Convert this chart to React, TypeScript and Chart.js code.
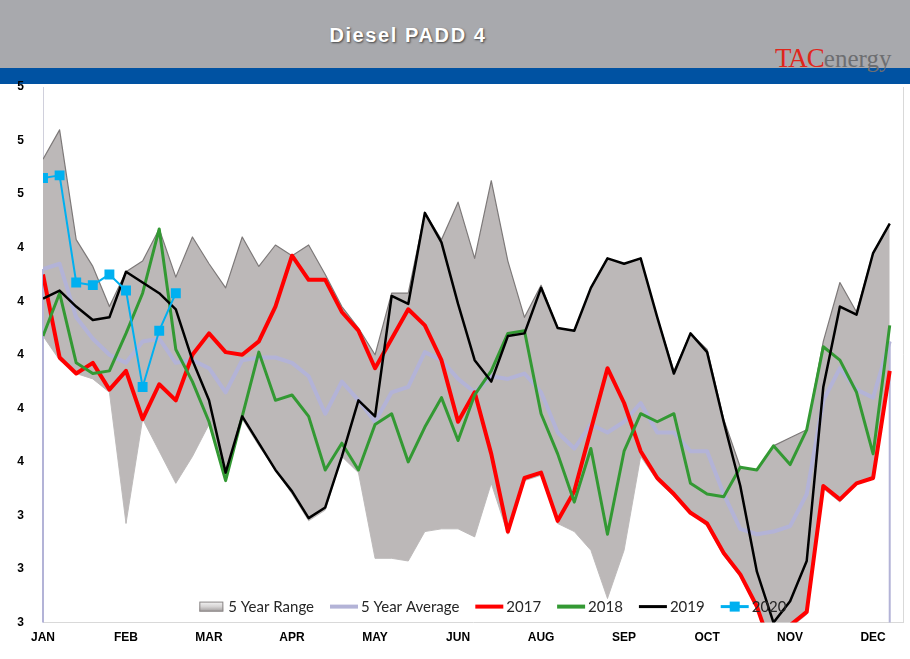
import React, { useEffect, useRef } from 'react';
import { Chart, registerables } from 'chart.js';

Chart.register(...registerables);

// ---- data ----
const monthLabels = ['JAN', 'FEB', 'MAR', 'APR', 'MAY', 'JUN', 'AUG', 'SEP', 'OCT', 'NOV', 'DEC'];
const yTickLabels = ['3', '3', '3', '4', '4', '4', '4', '4', '5', '5', '5'];

const rangeHigh = [
  4.73, 4.84, 4.43, 4.33, 4.18, 4.31, 4.35, 4.47, 4.29, 4.44,
  4.34, 4.25, 4.44, 4.33, 4.41, 4.37, 4.41, 4.30, 4.18, 4.10,
  4.00, 4.23, 4.23, 4.53, 4.43, 4.57, 4.36, 4.65, 4.35, 4.14,
  4.26, 4.10, 4.09, 4.25, 4.36, 4.34, 4.36, 4.14, 3.94, 4.08,
  4.02, 3.76, 3.58, 3.57, 3.66, 3.69, 3.72, 4.05, 4.27, 4.16,
  4.38, 4.49,
];
const rangeLow = [
  4.07, 3.98, 3.93, 3.91, 3.86, 3.37, 3.76, 3.64, 3.52, 3.62,
  3.74, 3.53, 3.76, 3.66, 3.57, 3.48, 3.38, 3.42, 3.62, 3.56,
  3.24, 3.24, 3.23, 3.34, 3.35, 3.35, 3.32, 3.52, 3.33, 3.53,
  3.55, 3.37, 3.34, 3.27, 3.09, 3.27, 3.62, 3.53, 3.47, 3.41,
  3.36, 3.25, 3.17, 3.05, 2.87, 2.98, 3.03, 3.50, 3.45, 3.52,
  3.54, 3.93,
];
const avg5 = [
  4.32, 4.34, 4.14, 4.06, 4.00, 3.97, 4.05, 4.06, 3.97, 3.98,
  3.95, 3.86, 3.98, 3.99, 3.99, 3.97, 3.92, 3.78, 3.90, 3.83,
  3.75, 3.86, 3.88, 4.01, 3.98, 3.91, 3.86, 3.92, 3.91, 3.93,
  3.86, 3.71, 3.65, 3.74, 3.71, 3.75, 3.82, 3.71, 3.71, 3.64,
  3.64, 3.48, 3.35, 3.33, 3.34, 3.36, 3.48, 3.83, 3.95, 3.87,
  3.84, 4.05,
];
const y2017 = [
  4.30, 3.99, 3.93, 3.97, 3.87, 3.94, 3.76, 3.89, 3.83, 4.00,
  4.08, 4.01, 4.00, 4.05, 4.18, 4.37, 4.28, 4.28, 4.16, 4.09,
  3.95, 4.06, 4.17, 4.11, 3.98, 3.75, 3.86, 3.63, 3.34, 3.54,
  3.56, 3.38, 3.49, 3.72, 3.95, 3.82, 3.64, 3.54, 3.48, 3.41,
  3.37, 3.26, 3.18, 3.06, 2.88, 2.99, 3.04, 3.51, 3.46, 3.52,
  3.54, 3.94,
];
const y2018 = [
  4.07, 4.23, 3.97, 3.93, 3.94, 4.08, 4.23, 4.47, 4.02, 3.90,
  3.75, 3.53, 3.77, 4.01, 3.83, 3.85, 3.77, 3.57, 3.67, 3.57,
  3.74, 3.78, 3.60, 3.73, 3.84, 3.68, 3.85, 3.94, 4.08, 4.09,
  3.78, 3.63, 3.45, 3.65, 3.33, 3.64, 3.78, 3.75, 3.78, 3.52,
  3.48, 3.47, 3.58, 3.57, 3.66, 3.59, 3.72, 4.03, 3.98, 3.86,
  3.63, 4.11,
];
const y2019 = [
  4.21, 4.24, 4.18, 4.13, 4.14, 4.31, 4.27, 4.23, 4.17, 3.98,
  3.83, 3.56, 3.77, 3.67, 3.57, 3.49, 3.39, 3.43, 3.62, 3.83,
  3.77, 4.22, 4.19, 4.53, 4.42, 4.19, 3.98, 3.90, 4.07, 4.08,
  4.25, 4.10, 4.09, 4.25, 4.36, 4.34, 4.36, 4.14, 3.93, 4.08,
  4.01, 3.75, 3.51, 3.19, 3.00, 3.08, 3.23, 3.88, 4.18, 4.15,
  4.38, 4.49,
];
const y2020 = [4.66, 4.67, 4.27, 4.26, 4.30, 4.24, 3.88, 4.09, 4.23];

const toXY = (arr: number[]) => arr.map((v, i) => ({ x: i, y: v }));

// ---- plugins ----
const framePlugin = {
  id: 'frame',
  beforeDatasetsDraw(chart: any) {
    const { ctx, chartArea } = chart;
    ctx.save();
    ctx.strokeStyle = '#d9d9d9';
    ctx.lineWidth = 1;
    ctx.beginPath();
    ctx.moveTo(chartArea.right + 0.5, chartArea.top);
    ctx.lineTo(chartArea.right + 0.5, chartArea.bottom);
    ctx.stroke();
    ctx.restore();
  },
};

const edgePlugin = {
  id: 'edgeDrops',
  afterDatasetDraw(chart: any, args: any) {
    const ds = chart.data.datasets[args.index];
    if (!ds.dropEdges) return;
    const pts = args.meta.data;
    if (!pts.length) return;
    const { ctx, chartArea } = chart;
    ctx.save();
    ctx.strokeStyle = ds.borderColor;
    ctx.lineWidth = 2;
    [pts[0], pts[pts.length - 1]].forEach((p: any) => {
      ctx.beginPath();
      ctx.moveTo(p.x, p.y);
      ctx.lineTo(p.x, chartArea.bottom);
      ctx.stroke();
    });
    ctx.restore();
  },
};

const insideLegend = {
  id: 'insideLegend',
  afterDraw(chart: any) {
    const { ctx, chartArea } = chart;
    const items = chart.data.datasets.filter((d: any) => d.legendKind);
    ctx.save();
    ctx.font = '15px Lato';
    ctx.textBaseline = 'middle';
    const symW = 28;
    const gap = 3;
    const spacing = 16;
    const widths = items.map((d: any) => symW + gap + ctx.measureText(d.label).width);
    const total = widths.reduce((a: number, b: number) => a + b, 0) + spacing * (items.length - 1);
    const center = chartArea.left + (chartArea.right - chartArea.left) * 0.522;
    let x = center - total / 2;
    const y = chartArea.bottom - 16;
    items.forEach((d: any, k: number) => {
      if (d.legendKind === 'range') {
        const g = ctx.createLinearGradient(0, y - 5, 0, y + 5);
        g.addColorStop(0, '#f4f4f4');
        g.addColorStop(0.5, '#d6d4d4');
        g.addColorStop(1, '#9e9a9a');
        ctx.fillStyle = g;
        ctx.fillRect(x + 2, y - 5, symW - 4, 10);
        ctx.strokeStyle = '#8c8888';
        ctx.lineWidth = 1;
        ctx.strokeRect(x + 2.5, y - 4.5, symW - 5, 9);
      } else {
        ctx.strokeStyle = d.borderColor;
        ctx.lineWidth = d.legendLineWidth || d.borderWidth;
        ctx.beginPath();
        ctx.moveTo(x, y);
        ctx.lineTo(x + symW, y);
        ctx.stroke();
        if (d.legendKind === 'marker') {
          ctx.fillStyle = d.borderColor;
          ctx.fillRect(x + symW / 2 - 5, y - 5, 10, 10);
        }
      }
      ctx.fillStyle = '#262626';
      ctx.textAlign = 'left';
      ctx.fillText(d.label, x + symW + gap, y + 1);
      x += widths[k] + spacing;
    });
    ctx.restore();
  },
};

export default function App() {
  const ref = useRef<HTMLCanvasElement | null>(null);

  useEffect(() => {
    if (!ref.current) return;
    const tickFont = { family: 'Liberation Sans', size: 12, weight: 'bold' as const };
    const chart = new Chart(ref.current, {
      type: 'line',
      data: {
        datasets: [
          {
            label: '',
            data: toXY(rangeLow),
            borderColor: 'rgba(140,136,136,0.55)',
            borderWidth: 1,
            pointRadius: 0,
            fill: false,
            order: 7,
          } as any,
          {
            label: '5 Year Range',
            data: toXY(rangeHigh),
            borderColor: '#7d7979',
            borderWidth: 1.2,
            backgroundColor: '#bcb8b8',
            fill: '-1',
            pointRadius: 0,
            order: 6,
            legendKind: 'range',
          } as any,
          {
            label: '5 Year Average',
            data: toXY(avg5),
            borderColor: '#b3b3d7',
            borderWidth: 4,
            pointRadius: 0,
            fill: false,
            order: 5,
            legendKind: 'line',
            dropEdges: true,
          } as any,
          {
            label: '2017',
            data: toXY(y2017),
            borderColor: '#ff0000',
            borderWidth: 4,
            pointRadius: 0,
            fill: false,
            order: 4,
            legendKind: 'line',
          } as any,
          {
            label: '2018',
            data: toXY(y2018),
            borderColor: '#339933',
            borderWidth: 3,
            pointRadius: 0,
            fill: false,
            order: 3,
            legendKind: 'line',
            legendLineWidth: 4,
          } as any,
          {
            label: '2019',
            data: toXY(y2019),
            borderColor: '#000000',
            borderWidth: 2.5,
            pointRadius: 0,
            fill: false,
            order: 2,
            legendKind: 'line',
            legendLineWidth: 3,
          } as any,
          {
            label: '2020',
            data: toXY(y2020),
            borderColor: '#00b0f0',
            backgroundColor: '#00b0f0',
            borderWidth: 2,
            pointStyle: 'rect',
            pointRadius: 7,
            pointBorderWidth: 0,
            pointBackgroundColor: '#00b0f0',
            fill: false,
            order: 1,
            legendKind: 'marker',
            legendLineWidth: 3,
          } as any,
        ],
      },
      options: {
        responsive: false,
        animation: false,
        events: [],
        layout: { padding: { top: 87, right: 7, bottom: 6, left: 0 } },
        elements: { line: { tension: 0, borderJoinStyle: 'round' } },
        plugins: {
          legend: { display: false },
          tooltip: { enabled: false },
          title: { display: false },
        },
        scales: {
          x: {
            type: 'linear',
            min: 0,
            max: 51.8,
            grid: { display: false, drawTicks: false },
            border: { display: true, color: '#d9d9d9', width: 1 },
            afterBuildTicks: (axis: any) => {
              axis.ticks = monthLabels.map((_, k) => ({ value: k * 5 }));
            },
            ticks: {
              autoSkip: false,
              maxRotation: 0,
              padding: 8,
              color: '#000000',
              font: tickFont,
              callback: (_v: any, idx: number) => monthLabels[idx] ?? '',
            },
          },
          y: {
            type: 'linear',
            min: 3,
            max: 5,
            grid: { display: false, drawTicks: false },
            border: { display: true, color: '#d0d0dc', width: 1 },
            afterBuildTicks: (axis: any) => {
              axis.ticks = yTickLabels.map((_, k) => ({ value: 3 + k * 0.2 }));
            },
            afterFit: (axis: any) => {
              axis.width = 43;
            },
            ticks: {
              padding: 19,
              color: '#000000',
              font: tickFont,
              callback: (_v: any, idx: number) => yTickLabels[idx] ?? '',
            },
          },
        },
      } as any,
      plugins: [framePlugin, edgePlugin, insideLegend],
    });
    return () => chart.destroy();
  }, []);

  return (
    <div
      style={{
        position: 'absolute',
        left: 0,
        top: 0,
        width: 910,
        height: 659,
        background: '#ffffff',
        overflow: 'hidden',
      }}
    >
      <div style={{ position: 'absolute', left: 0, top: 0, width: 910, height: 68, background: '#a8a9ad' }} />
      <div style={{ position: 'absolute', left: 0, top: 68, width: 910, height: 16, background: '#0052a2' }} />
      <div
        style={{
          position: 'absolute',
          left: 0,
          top: 22,
          width: 816,
          textAlign: 'center',
          fontFamily: 'Liberation Sans, Arial, sans-serif',
          fontWeight: 'bold',
          fontSize: 20,
          lineHeight: '26px',
          letterSpacing: '1.6px',
          color: '#ffffff',
          textShadow: '1px 1px 2px rgba(50,50,50,0.85)',
        }}
      >
        Diesel PADD 4
      </div>
      <div
        style={{
          position: 'absolute',
          left: 775,
          top: 45,
          whiteSpace: 'nowrap',
          fontFamily: 'Liberation Serif, Times New Roman, serif',
          lineHeight: '26px',
        }}
      >
        <span style={{ color: '#e0261c', fontSize: 27, letterSpacing: '-1px' }}>TAC</span>
        <span style={{ color: '#6d6e71', fontSize: 25 }}>energy</span>
      </div>
      <canvas
        ref={ref}
        width={910}
        height={659}
        style={{ position: 'absolute', left: 0, top: 0, width: 910, height: 659 }}
      />
    </div>
  );
}
